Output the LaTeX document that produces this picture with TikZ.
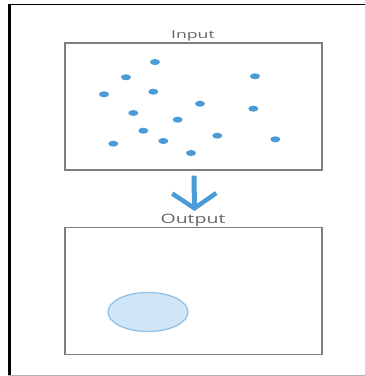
\documentclass[tikz,border=0pt]{standalone}
\usepackage{fontspec}
\setmainfont{Open Sans}
\usetikzlibrary{arrows.meta}
\definecolor{dotblue}{HTML}{4A9BD6}
\definecolor{boxgray}{HTML}{7F7F7F}
\definecolor{txtgray}{HTML}{666666}
\definecolor{ellfill}{HTML}{D0E6F7}
\definecolor{elledge}{HTML}{8CBFE3}
\tikzset{
  panel/.style={draw=boxgray, line width=1.3pt, minimum width=257pt, minimum height=127pt, inner sep=0pt},
  lbl/.style={text=txtgray, inner sep=0pt},
  dot/.style={fill=dotblue},
  flow/.style={draw=dotblue, line width=5pt, -{Straight Barb[length=15pt,width=44pt,line width=4.5pt]}},
}
\begin{document}
\begin{tikzpicture}[x=1pt,y=-1pt]
\useasboundingbox (0,0) rectangle (365,376);
\fill[white] (0,0) rectangle (365,376);
% outer frame
\draw[black, line width=1.5pt] (8,4.5) -- (365,4.5);
\draw[black, line width=3pt] (9.5,3.75) -- (9.5,376);
\draw[gray!60, line width=1pt] (8,375.3) -- (365,375.3);
% panels
\node[panel] (inbox) at (193.5,106.5) {};
\node[panel] (outbox) at (193.5,291) {};
\node[lbl, font=\fontsize{11}{13}\selectfont] (inlbl) at (193,35.5) {\scalebox{1.6}[1]{Input}};
\node[lbl, font=\fontsize{13}{15}\selectfont] (outlbl) at (193,220.5) {\scalebox{1.5}[1]{Output}};
% arrow
\coordinate (atop) at ([xshift=0.5pt]inbox.south);
\coordinate (abot) at ([xshift=1.5pt]outlbl.north);
\draw[flow, shorten <=5pt, shorten >=3pt] (atop) -- (abot);
% dots
\foreach \x/\y in {155/62,126/77.3,255/76.3,104/94.3,153.3/91.7,200/103.7,253.3/108.7,133.3/113,177.7/119.7,143.3/130.7,217.3/135.7,275.3/139.3,113.3/143.7,163.3/141,191/153}
  \fill[dot] (\x,\y) ellipse (5 and 3);
% cluster
\draw[draw=elledge, fill=ellfill, line width=1.2pt] (148,312) ellipse (40 and 19.5);
\end{tikzpicture}
\end{document}
